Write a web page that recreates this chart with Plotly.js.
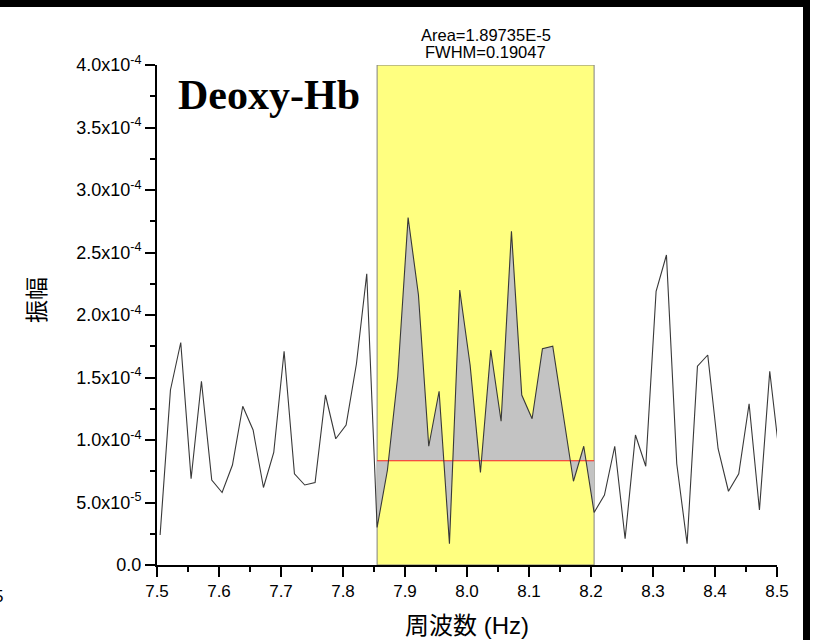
<!DOCTYPE html>
<html>
<head>
<meta charset="utf-8">
<script src="https://cdn.plot.ly/plotly-3.0.1.min.js"></script>
<style>html,body{margin:0;padding:0;background:#fff;}#chart{width:814px;height:640px;}</style>
</head>
<body>
<div id="chart"></div>
<script>
// Frequencies (Hz)
const freq = [7.5050,7.5217,7.5383,7.5550,7.5717,7.5883,7.6050,7.6217,7.6383,7.6550,
  7.6717,7.6883,7.7050,7.7217,7.7383,7.7550,7.7717,7.7883,7.8050,7.8217,
  7.8383,7.8550,7.8717,7.8883,7.9050,7.9217,7.9383,7.9550,7.9717,7.9883,
  8.0050,8.0217,8.0383,8.0550,8.0717,8.0883,8.1050,8.1217,8.1383,8.1550,
  8.1717,8.1883,8.2050,8.2217,8.2383,8.2550,8.2717,8.2883,8.3050,8.3217,
  8.3383,8.3550,8.3717,8.3883,8.4050,8.4217,8.4383,8.4550,8.4717,8.4883,8.5050];
// Amplitude
const amplitude = [2.4e-5,1.40e-4,1.78e-4,6.9e-5,1.47e-4,6.8e-5,5.8e-5,8.0e-5,1.27e-4,1.08e-4,
  6.2e-5,9.0e-5,1.71e-4,7.3e-5,6.4e-5,6.6e-5,1.36e-4,1.01e-4,1.12e-4,1.61e-4,
  2.33e-4,3.0e-5,7.6e-5,1.51e-4,2.78e-4,2.16e-4,9.5e-5,1.39e-4,1.7e-5,2.20e-4,
  1.60e-4,7.4e-5,1.72e-4,1.15e-4,2.67e-4,1.36e-4,1.17e-4,1.73e-4,1.75e-4,1.21e-4,
  6.7e-5,9.5e-5,4.2e-5,5.6e-5,9.5e-5,2.1e-5,1.04e-4,7.9e-5,2.19e-4,2.48e-4,
  8.1e-5,1.7e-5,1.59e-4,1.68e-4,9.3e-5,5.9e-5,7.3e-5,1.29e-4,4.4e-5,1.55e-4,8.3e-5];
// Integration window (indices) and baseline level
const peakStart = 21;
const peakEnd = 42;
const baseLevel = 8.34e-5;
// Y tick values / labels
const yTickVals = [0, 5e-5, 1e-4, 1.5e-4, 2e-4, 2.5e-4, 3e-4, 3.5e-4, 4e-4];
const yTickText = ['0.0','5.0x10<sup>-5</sup>','1.0x10<sup>-4</sup>','1.5x10<sup>-4</sup>','2.0x10<sup>-4</sup>',
  '2.5x10<sup>-4</sup>','3.0x10<sup>-4</sup>','3.5x10<sup>-4</sup>','4.0x10<sup>-4</sup>'];
const yMinorVals = [2.5e-5, 7.5e-5, 1.25e-4, 1.75e-4, 2.25e-4, 2.75e-4, 3.25e-4, 3.75e-4];
const labelTitle = 'Deoxy-Hb';
const areaText = 'Area=1.89735E-5';
const fwhmText = 'FWHM=0.19047';

const segX = freq.slice(peakStart, peakEnd + 1);
const segY = amplitude.slice(peakStart, peakEnd + 1);
const x0 = freq[peakStart], x1 = freq[peakEnd];

const sans = 'Liberation Sans, Arial, sans-serif';
const cjk = 'Liberation Sans, Noto Sans CJK JP, sans-serif';

const traces = [
  {x: [x0, x1], y: [baseLevel, baseLevel], mode: 'lines', line: {width: 0, color: 'rgba(0,0,0,0)'},
   hoverinfo: 'skip', showlegend: false},
  {x: segX, y: segY, mode: 'lines', fill: 'tonexty', fillcolor: '#C3C3C3',
   line: {width: 0, color: 'rgba(0,0,0,0)'}, hoverinfo: 'skip', showlegend: false},
  {x: [x0, x1], y: [baseLevel, baseLevel], mode: 'lines', line: {width: 1, color: '#FF2020'},
   hoverinfo: 'skip', showlegend: false},
  {x: freq, y: amplitude, mode: 'lines', line: {width: 1.1, color: '#383838'}, showlegend: false}
];

const layout = {
  width: 814, height: 640,
  margin: {l: 157, r: 37, t: 65, b: 75},
  paper_bgcolor: '#fff', plot_bgcolor: '#fff',
  showlegend: false,
  xaxis: {
    range: [7.5, 8.5], tickmode: 'linear', tick0: 7.5, dtick: 0.1, tickformat: '.1f',
    showline: true, linecolor: '#000', linewidth: 2, showgrid: false, zeroline: false,
    ticks: 'outside', ticklen: 10, tickwidth: 2, tickcolor: '#000',
    minor: {tick0: 7.55, dtick: 0.05, ticks: 'outside', ticklen: 5, tickwidth: 2, tickcolor: '#000', showgrid: false},
    tickfont: {family: sans, size: 17, color: '#000'}
  },
  yaxis: {
    range: [0, 4e-4], tickmode: 'array', tickvals: yTickVals, ticktext: yTickText,
    showline: true, linecolor: '#000', linewidth: 2, showgrid: false, zeroline: false,
    ticks: 'outside', ticklen: 10, tickwidth: 2, tickcolor: '#000',
    minor: {tickvals: yMinorVals, ticks: 'outside', ticklen: 5, tickwidth: 2, tickcolor: '#000', showgrid: false},
    tickfont: {family: sans, size: 18, color: '#000'}
  },
  shapes: [
    {type: 'rect', xref: 'x', yref: 'y', x0: x0, x1: x1, y0: 0, y1: 4e-4,
     fillcolor: '#FFFF80', line: {color: '#808080', width: 1}, layer: 'below'},
    {type: 'rect', xref: 'paper', yref: 'paper', x0: (803-157)/620, x1: (810-157)/620, y0: -0.16, y1: 1.14,
     fillcolor: '#000', line: {width: 0}},
    {type: 'rect', xref: 'paper', yref: 'paper', x0: -0.26, x1: (810-157)/620, y0: (565-7)/500, y1: 1.14,
     fillcolor: '#000', line: {width: 0}}
  ],
  annotations: [
    {text: labelTitle, xref: 'paper', yref: 'paper', x: (268.5-157)/620, y: (565-95)/500,
     xanchor: 'center', yanchor: 'middle', showarrow: false,
     font: {family: 'Liberation Serif, Times New Roman, serif', size: 42, color: '#000', weight: 'bold'}},
    {text: areaText, xref: 'x', yref: 'paper', x: (x0 + x1) / 2, y: (565-35)/500,
     xanchor: 'center', yanchor: 'middle', showarrow: false,
     font: {family: sans, size: 16.5, color: '#000'}},
    {text: fwhmText, xref: 'x', yref: 'paper', x: (x0 + x1) / 2, y: (565-52)/500,
     xanchor: 'center', yanchor: 'middle', showarrow: false,
     font: {family: sans, size: 16.5, color: '#000'}},
    {text: '振幅', xref: 'paper', yref: 'paper', x: (37-157)/620, y: (565-300)/500,
     xanchor: 'center', yanchor: 'middle', textangle: -90, showarrow: false,
     font: {family: cjk, size: 23, color: '#000'}},
    {text: '周波数 (Hz)', xref: 'paper', yref: 'paper', x: (467-157)/620, y: (565-625)/500,
     xanchor: 'center', yanchor: 'middle', showarrow: false,
     font: {family: cjk, size: 24, color: '#000'}},
    {text: '5', xref: 'paper', yref: 'paper', x: (5-157)/620, y: (565-596)/500,
     xanchor: 'right', yanchor: 'middle', showarrow: false,
     font: {family: sans, size: 17, color: '#000'}}
  ]
};

Plotly.newPlot('chart', traces, layout, {displayModeBar: false, staticPlot: true});
</script>
</body>
</html>
